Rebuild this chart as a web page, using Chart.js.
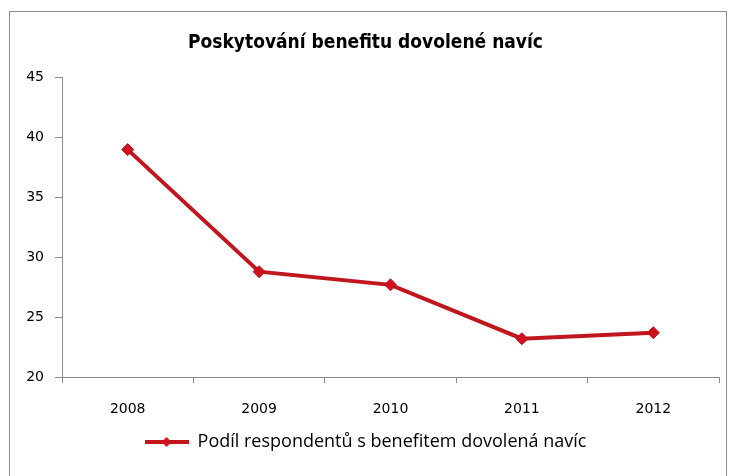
<!DOCTYPE html>
<html>
<head>
  <meta charset="utf-8">
  <style>
    html,
    body {
      margin: 0;
      height: 100%;
      overflow: hidden;
      background: #fff;
    }
    .chart-container {
      position: absolute;
      left: 9px;
      top: 11px;
      width: 716px;
      height: 470px;
      border: 1px solid #8c8c8c;
      border-bottom: none;
    }
  </style>
</head>
<body>
  <div class="chart-container">
    <canvas id="chart1"></canvas>
  </div>
</body>
<script src="https://cdn.jsdelivr.net/npm/chart.js@4/dist/chart.umd.min.js"></script>
<script>
  const years = ['2008', '2009', '2010', '2011', '2012']
  const shareValues = [39.0, 28.8, 27.7, 23.2, 23.7]
  const seriesName = 'Podíl respondentů s benefitem dovolená navíc'
  const titleText = 'Poskytování benefitu dovolené navíc'

  const lineColor = '#c0161e'
  const axisColor = '#8c8c8c'

  // legend symbol: short line with a diamond in the middle
  const legendIcon = document.createElement('canvas')
  legendIcon.width = 44
  legendIcon.height = 12
  const g = legendIcon.getContext('2d')
  g.strokeStyle = lineColor
  g.lineWidth = 4
  g.beginPath()
  g.moveTo(0, 6)
  g.lineTo(44, 6)
  g.stroke()
  g.fillStyle = '#d0101c'
  g.beginPath()
  g.moveTo(22, 1)
  g.lineTo(27, 6)
  g.lineTo(22, 11)
  g.lineTo(17, 6)
  g.closePath()
  g.fill()

  new Chart(document.getElementById('chart1'), {
    type: 'line',
    data: {
      labels: years,
      datasets: [
        {
          label: seriesName,
          data: shareValues,
          borderColor: lineColor,
          borderWidth: 4,
          backgroundColor: '#d0101c',
          pointStyle: 'rectRot',
          pointRadius: 6,
          pointBorderColor: '#b0141c',
          pointBorderWidth: 1,
          tension: 0
        }
      ]
    },
    options: {
      responsive: true,
      maintainAspectRatio: false,
      animation: false,
      layout: {
        padding: { left: 0, right: 5, top: 0, bottom: 21 }
      },
      plugins: {
        title: {
          display: true,
          text: titleText,
          color: '#000',
          font: { family: 'DejaVu Sans Condensed, DejaVu Sans', size: 19, weight: 'bold' },
          padding: { top: 20, bottom: 23 }
        },
        legend: {
          position: 'bottom',
          labels: {
            color: '#000',
            font: { family: 'Open Sans', size: 18 },
            usePointStyle: true,
            pointStyleWidth: 44,
            generateLabels: chart => [
              {
                text: seriesName,
                pointStyle: legendIcon,
                fillStyle: lineColor,
                strokeStyle: lineColor,
                lineWidth: 0,
                datasetIndex: 0
              }
            ]
          }
        },
        tooltip: { enabled: false }
      },
      scales: {
        x: {
          offset: true,
          afterFit: scale => {
            scale.height = 46
          },
          grid: {
            offset: true,
            drawOnChartArea: false,
            drawTicks: true,
            tickLength: 6,
            color: axisColor
          },
          border: { color: axisColor, width: 1 },
          ticks: {
            color: '#000',
            padding: 18,
            font: { family: 'DejaVu Sans', size: 14 }
          }
        },
        y: {
          min: 20,
          max: 45,
          afterFit: scale => {
            scale.width = 52
          },
          grid: {
            drawOnChartArea: false,
            drawTicks: true,
            tickLength: 7,
            color: axisColor
          },
          border: { color: axisColor, width: 1 },
          ticks: {
            stepSize: 5,
            color: '#000',
            padding: 11,
            font: { family: 'DejaVu Sans', size: 14 }
          }
        }
      }
    }
  })
</script>
</html>
